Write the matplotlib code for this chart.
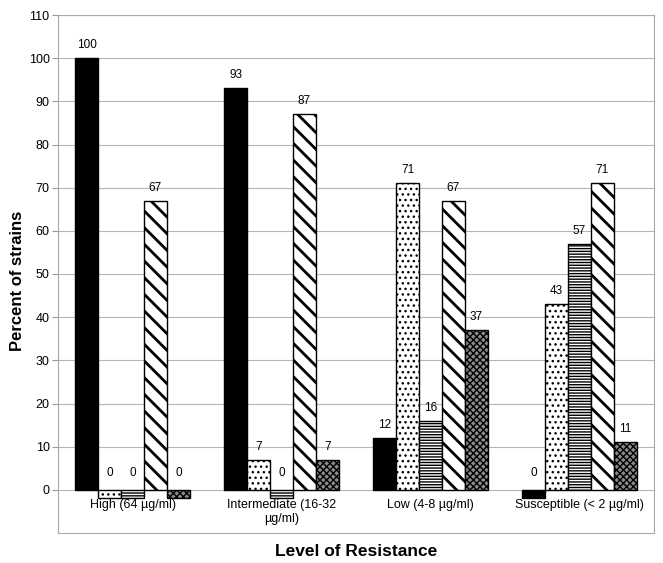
import matplotlib
matplotlib.use("Agg")
import matplotlib.pyplot as plt
import numpy as np

plt.rcParams['font.family'] = ['Liberation Sans', 'DejaVu Sans']

categories = ["High (64 \u00b5g/ml)", "Intermediate (16-32\n\u00b5g/ml)",
              "Low (4-8 \u00b5g/ml)", "Susceptible (< 2 \u00b5g/ml)"]
series_1 = [100, 93, 12, 0]
series_2 = [0, 7, 71, 43]
series_3 = [0, 0, 16, 57]
series_4 = [67, 87, 67, 71]
series_5 = [0, 7, 37, 11]
yticks = list(range(0, 111, 10))

series = [series_1, series_2, series_3, series_4, series_5]
faces = ['black', 'white', 'white', 'white', '#8a8a8a']
hatches = [None, '...', '------', '\\\\', 'xxxxx']
hatch_lw = [1.0, 1.0, 1.0, 2.0, 1.0]

fig = plt.figure(figsize=(6.63, 5.63), dpi=100)
ax = fig.add_axes([58 / 663, 30 / 563, 596 / 663, 518 / 563])

x = np.arange(len(categories))
w = 0.154
for i, vals in enumerate(series):
    # zero values are shown as a small stub below the axis
    heights = [v if v > 0 else -2 for v in vals]
    plt.rcParams['hatch.linewidth'] = hatch_lw[i]
    bars = ax.bar(x + (i - 2) * w, heights, w, color=faces[i], edgecolor='black',
                  linewidth=1.0, hatch=hatches[i], zorder=3)
    for b in bars:
        if hasattr(b, 'set_hatch_linewidth'):
            b.set_hatch_linewidth(hatch_lw[i])
    for xi, v in zip(x + (i - 2) * w, vals):
        off = 5 if v > 0 else 8
        ax.annotate(str(v), (xi, v), xytext=(0, off), textcoords='offset points',
                    ha='center', va='bottom', fontsize=8.5)

for xi, lab in zip(x, categories):
    ax.text(xi, -2.1, lab, ha='center', va='top', fontsize=9, linespacing=1.2)

ax.set_xlim(-0.5, 3.5)
ax.set_ylim(-10, 110)
ax.set_yticks(yticks)
ax.set_xticks([])
ax.yaxis.grid(True, color='#b5b5b5', linewidth=0.8, zorder=0)
ax.tick_params(axis='y', length=4, color='#999999', labelsize=9, pad=2)
for s in ax.spines.values():
    s.set_color('#aaaaaa')
    s.set_linewidth(0.8)

ax.set_ylabel("Percent of strains", fontsize=12, fontweight='bold')
ax.yaxis.set_label_coords(-(58 - 25) / 596, (533 - 281) / 518)
fig.text(356 / 663, 1 - 551 / 563, "Level of Resistance", ha='center', va='center',
         fontsize=12.5, fontweight='bold')

fig.savefig("out.png", dpi=100)
